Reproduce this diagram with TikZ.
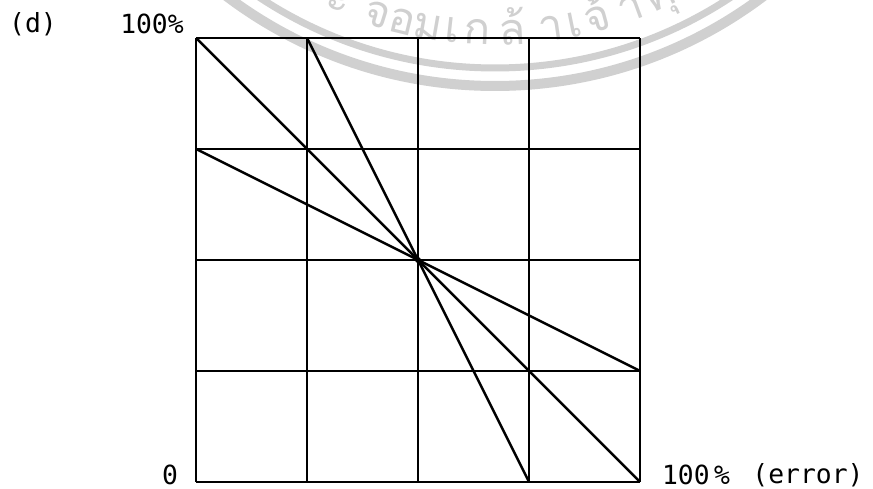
\documentclass[tikz,border=0pt]{standalone}
\usepackage{fontspec}
\newfontfamily\handfont{DejaVu Sans Mono}
\newfontfamily\thaifont[Script=Thai]{Loma}
\usetikzlibrary{calc}
\definecolor{stamp}{RGB}{208,208,208}
\tikzset{
  gridline/.style={black,line width=1.3pt},
  errline/.style={black,line width=1.4pt},
  lbl/.style={font=\handfont\fontsize{15}{17}\selectfont,inner sep=0pt},
}

\begin{document}
\begin{tikzpicture}[x=0.02cm,y=0.02cm]
  \useasboundingbox (0,0) rectangle (873,489);
  % faint seal in the background
  \begin{scope}
    \clip (0,0) rectangle (873,489);
    \coordinate (seal) at (495,849);
    \draw[stamp,line width=0.14cm] (seal) circle[radius=428];
    \draw[stamp,line width=0.2cm] (seal) circle[radius=446];
    \foreach \a/\c in {-35.5/พ,-28.6/ร,-23.4/ะ,-17.4/จ,-13.6/อ,-9.9/ม,-6.3/เ,-2.6/ก,2.6/ล้,8.2/า,11.6/เ,15.2/จ้,20.2/า,24.9/คุ,30.6/ณ}
      \node[stamp,anchor=base,rotate=\a,inner sep=0pt,font=\thaifont\fontsize{25}{28}\selectfont]
        at ($(seal)+(270+\a:405)$) {\c};
  \end{scope}
  % 4 x 4 grid
  \foreach \i in {0,...,4} {
    \draw[gridline] (196+111*\i,7) -- (196+111*\i,451);
    \draw[gridline] (196,7+111*\i) -- (640,7+111*\i);
  }
  \coordinate (mid) at (418,229);
  \draw[errline] (196,451) -- (mid) -- (640,7);
  \draw[errline] (307,451) -- (mid) -- (529,7);
  \draw[errline] (196,340) -- (mid) -- (640,118);
  \fill (mid) circle[radius=3];
  % labels
  \node[lbl] (tag) at (33,465) {(d)};
  \node[lbl] (ytop) at (152,465) {100\%};
  \node[lbl] (zero) at (170,14) {0};
  \node[lbl] (xend) at (696,14) {100\,\%};
  \node[lbl] (xname) at (808,14) {(error)};
\end{tikzpicture}
\end{document}
